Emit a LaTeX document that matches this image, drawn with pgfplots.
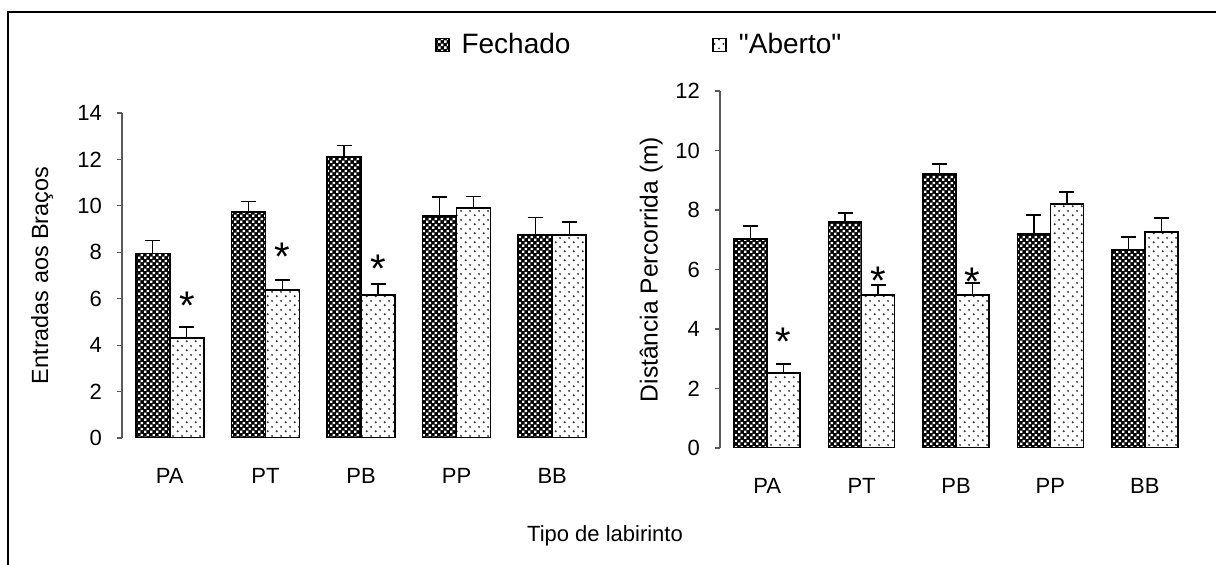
\documentclass[border=0pt]{standalone}
\usepackage{fontspec}
\setmainfont{Liberation Sans}
\newfontfamily\plainfont{Liberation Sans}
\usepackage{pgfplots}
\pgfplotsset{compat=1.18}
\usetikzlibrary{patterns}

\pgfdeclarepatternformonly{checkwhite}{\pgfpointorigin}{\pgfqpoint{3pt}{3pt}}{\pgfqpoint{3pt}{3pt}}{%
  \pgfpathrectangle{\pgfqpoint{0.1pt}{0.1pt}}{\pgfqpoint{1.32pt}{1.32pt}}%
  \pgfpathrectangle{\pgfqpoint{1.6pt}{1.6pt}}{\pgfqpoint{1.32pt}{1.32pt}}%
  \pgfusepath{fill}}
\pgfdeclarepatternformonly{sparsedots}{\pgfpointorigin}{\pgfqpoint{4.4pt}{4.4pt}}{\pgfqpoint{4.4pt}{4.4pt}}{%
  \pgfpathcircle{\pgfqpoint{0.9pt}{0.9pt}}{0.55pt}%
  \pgfpathcircle{\pgfqpoint{3.1pt}{3.1pt}}{0.55pt}%
  \pgfusepath{fill}}

\pgfplotstableread{
x y e
0 7.95 0.55
1 9.74 0.45
2 12.10 0.50
3 9.56 0.82
4 8.75 0.75
}\leftF
\pgfplotstableread{
x y e
0 4.31 0.47
1 6.38 0.42
2 6.16 0.47
3 9.90 0.50
4 8.75 0.55
}\leftA
\pgfplotstableread{
x y e
0 7.03 0.43
1 7.60 0.30
2 9.21 0.34
3 7.19 0.64
4 6.65 0.44
}\rightF
\pgfplotstableread{
x y e
0 2.52 0.30
1 5.14 0.34
2 5.14 0.41
3 8.20 0.40
4 7.26 0.47
}\rightA

\tikzset{star/.style={font=\fontsize{20}{20}\selectfont, anchor=base, yshift=-11.4pt, inner sep=0pt}}

\pgfplotsset{
  mybar/.style={
    ybar=0pt, scale only axis,
    xmin=-0.5, xmax=4.5, ymin=0,
    enlargelimits=false,
    xtick={0,1,2,3,4}, xticklabels={PA,PT,PB,PP,BB},
    axis y line*=left, axis x line*=bottom,
    x axis line style={draw=none},
    y axis line style={draw=black!65, line width=0.6pt},
    ytick style={draw=black!65, line width=0.6pt},
    xtick style={draw=none},
    tick align=outside, major tick length=2.5pt,
    tick label style={font=\fontsize{11}{13}\selectfont},
    /pgf/number format/assume math mode=true,
    yticklabel style={xshift=-4pt},
    xticklabel style={yshift=-9pt},
    error bars/y dir=plus, error bars/y explicit,
    error bars/error bar style={line width=0.7pt, black, solid},
    error bars/error mark options={rotate=90, black, mark size=3.75pt, line width=0.7pt},
    legend image code/.code={\draw[##1] (0pt,-3.25pt) rectangle (6.5pt,3.25pt);},
  },
  fech/.style={preaction={fill=black}, pattern=checkwhite, pattern color=white, draw=black, line width=0.75pt},
  aber/.style={preaction={fill=white}, pattern=sparsedots, pattern color=black!80, draw=black, line width=0.75pt},
}

\begin{document}
\begin{tikzpicture}
\useasboundingbox (0,0) rectangle (608pt,282.5pt);
\draw[line width=1pt] (3.8pt,-2pt) -- (3.8pt,276.5pt) -- (612pt,276.5pt);

\begin{axis}[mybar,
  at={(61pt,63.5pt)}, anchor=south west,
  width=239pt, height=162.5pt,
  ymax=14, ytick={0,2,...,14},
  bar width=17pt,
  ylabel={Entradas aos Braços},
  every axis y label/.style={at={(axis description cs:-0.167,0.5)}, rotate=90, anchor=center,
    font=\fontsize{11.7}{13}\selectfont},
  legend columns=2,
  legend style={at={(axis description cs:0.654,1.209)}, anchor=west, draw=none, fill=none,
    inner sep=0pt, font=\fontsize{14}{16}\selectfont,
    /tikz/every odd column/.append style={column sep=4pt},
    /tikz/every even column/.append style={column sep=69pt}},
]
\addplot[fech] table[x=x, y=y, y error=e] {\leftF};
\addplot[aber] table[x=x, y=y, y error=e] {\leftA};
\legend{Fechado, {\plainfont"Aberto"}}
\node[star] at (axis cs:0.178,6.07) {*};
\node[star] at (axis cs:1.178,8.19) {*};
\node[star] at (axis cs:2.178,7.67) {*};
\end{axis}

\begin{axis}[mybar,
  at={(360pt,58.5pt)}, anchor=south west,
  width=236pt, height=178.5pt,
  ymax=12, ytick={0,2,...,12},
  bar width=16.5pt,
  ylabel={Distância Percorrida (m)},
  every axis y label/.style={at={(axis description cs:-0.146,0.5)}, rotate=90, anchor=center,
    font=\fontsize{12.3}{14}\selectfont},
]
\addplot[fech] table[x=x, y=y, y error=e] {\rightF};
\addplot[aber] table[x=x, y=y, y error=e] {\rightA};
\node[star] at (axis cs:0.175,3.87) {*};
\node[star] at (axis cs:1.175,5.92) {*};
\node[star] at (axis cs:2.175,5.88) {*};
\end{axis}

\node[font=\fontsize{11}{13}\selectfont] at (302.5pt,14.5pt) {Tipo de labirinto};
\end{tikzpicture}
\end{document}
